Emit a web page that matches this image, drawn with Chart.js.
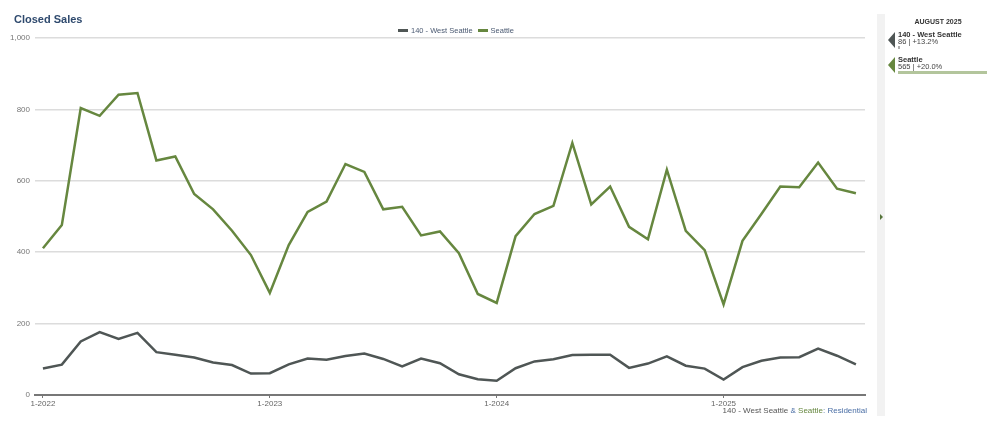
<!DOCTYPE html>
<html>
<head>
<meta charset="utf-8">
<script src="https://cdn.jsdelivr.net/npm/chart.js@4/dist/chart.umd.min.js"></script>
<style>
  body { margin: 0; background: #fff; font-family: "Liberation Sans", Arial, sans-serif; }
  #wrap { position: relative; width: 1000px; height: 421px; overflow: hidden; }
  #chartBox { position: absolute; left: 0; top: 0; width: 880px; height: 421px; }
  .title { position: absolute; left: 14px; top: 13px; font-size: 11px; font-weight: bold; color: #2f4a6e; }
  .legend { position: absolute; top: 26px; left: 398px; font-size: 7.5px; color: #4b5a72; white-space: nowrap; }
  .legend span.sw { display: inline-block; width: 10px; height: 3px; vertical-align: middle; margin: 0 3px 1px 0; }
  .legend span.it { margin-right: 5px; }
  .caption { position: absolute; right: 133px; top: 406px; font-size: 8px; color: #555; white-space: nowrap; }
  .strip { position: absolute; left: 877px; top: 14px; width: 8px; height: 402px; background: #f2f2f2; }
  .strip .arr { position: absolute; left: 3px; top: 200px; width: 0; height: 0;
    border-top: 3px solid transparent; border-bottom: 3px solid transparent; border-left: 3px solid #55743a; }
  .panel { position: absolute; left: 886px; top: 0; width: 110px; }
  .month { position: absolute; left: 0; width: 104px; top: 18px; text-align: center; font-size: 7px; font-weight: bold; color: #333; }
  .tri { position: absolute; left: 2px; width: 0; height: 0; border-top: 8px solid transparent; border-bottom: 8px solid transparent; border-right: 7px solid #4f5655; }
  .nm { position: absolute; left: 12px; font-size: 7.5px; line-height: 8px; font-weight: bold; color: #333; white-space: nowrap; }
  .vl { position: absolute; left: 12px; font-size: 7.5px; line-height: 8px; color: #444; white-space: nowrap; }
  .bar { position: absolute; left: 12px; height: 3px; }
</style>
</head>
<body>
<div id="wrap">
  <div id="chartBox"><canvas id="salesChart"></canvas></div>
  <div class="title">Closed Sales</div>
  <div class="legend" id="legend"></div>
  <div class="caption" id="caption"></div>
  <div class="strip"><div class="arr"></div></div>
  <div class="panel" id="panel"></div>
</div>
<script>
// months 1-2022 .. 8-2025
const months = [
  "1-2022","2-2022","3-2022","4-2022","5-2022","6-2022","7-2022","8-2022","9-2022","10-2022","11-2022","12-2022",
  "1-2023","2-2023","3-2023","4-2023","5-2023","6-2023","7-2023","8-2023","9-2023","10-2023","11-2023","12-2023",
  "1-2024","2-2024","3-2024","4-2024","5-2024","6-2024","7-2024","8-2024","9-2024","10-2024","11-2024","12-2024",
  "1-2025","2-2025","3-2025","4-2025","5-2025","6-2025","7-2025","8-2025"
];

const westSeattle = [
  74, 85, 150, 176, 157, 174, 120, 113, 105, 91, 84, 60,
  61, 86, 102, 99, 109, 116, 101, 80, 102, 89, 58, 44,
  40, 75, 94, 100, 112, 113, 113, 76, 88, 108, 82, 74,
  43, 78, 96, 105, 106, 130, 110, 86
];

const seattle = [
  411, 476, 804, 782, 841, 846, 657, 668, 563, 520, 460, 392,
  286, 420, 513, 542, 647, 625, 520, 527, 447, 458, 397, 283,
  258, 445, 507, 530, 706, 534, 584, 471, 436, 631, 460, 406,
  254, 432, 507, 584, 582, 651, 578, 565
];

const xTickIdx = [0, 12, 24, 36];
const yTicks = [0, 200, 400, 600, 800, 1000];

const seriesNames = ["140 - West Seattle", "Seattle"];
const seriesColors = ["#4f5655", "#66873f"];
const reportMonth = "AUGUST 2025";

const FONT = "'Liberation Sans', Arial, sans-serif";

function toPoints(arr) {
  return arr.map((v, i) => ({ x: i, y: v }));
}

const ctx = document.getElementById("salesChart").getContext("2d");
new Chart(ctx, {
  type: "line",
  data: {
    datasets: [
      {
        label: seriesNames[0],
        data: toPoints(westSeattle),
        borderColor: seriesColors[0],
        borderWidth: 2.5,
        pointRadius: 0,
        tension: 0,
      },
      {
        label: seriesNames[1],
        data: toPoints(seattle),
        borderColor: seriesColors[1],
        borderWidth: 2.5,
        pointRadius: 0,
        tension: 0,
      },
    ],
  },
  options: {
    responsive: true,
    maintainAspectRatio: false,
    animation: false,
    layout: { padding: { top: 38, right: 15, left: 0, bottom: 0 } },
    plugins: {
      legend: { display: false },
      tooltip: { enabled: false },
    },
    scales: {
      x: {
        type: "linear",
        min: -0.42,
        max: months.length - 1 + 0.48,
        afterBuildTicks: (axis) => { axis.ticks = xTickIdx.map(v => ({ value: v })); },
        afterFit: (axis) => { axis.height = 26; },
        ticks: {
          callback: (v) => months[v],
          color: "#666",
          font: { family: FONT, size: 8 },
          padding: 1,
          maxRotation: 0,
        },
        grid: { drawOnChartArea: false, tickLength: 3, color: "#777", tickWidth: 1 },
        border: { display: true, color: "#777", width: 2 },
      },
      y: {
        min: 0,
        max: 1000,
        afterBuildTicks: (axis) => { axis.ticks = yTicks.map(v => ({ value: v })); },
        afterFit: (axis) => { axis.width = 35; },
        ticks: {
          callback: (v) => v.toLocaleString("en-US"),
          color: "#777",
          font: { family: FONT, size: 8 },
          padding: 5,
        },
        grid: { color: "#dcdcdc", lineWidth: 1.5, drawTicks: false },
        border: { display: false },
      },
    },
  },
});

// legend
document.getElementById("legend").innerHTML = seriesNames.map((n, i) =>
  `<span class="sw" style="background:${seriesColors[i]}"></span><span class="it">${n}</span>`
).join("");

// footer caption
document.getElementById("caption").innerHTML =
  `<span style="color:#555">${seriesNames[0]}</span> <span style="color:#4a6ea5">&amp;</span> ` +
  `<span style="color:${seriesColors[1]}">${seriesNames[1]}</span><span style="color:#4a6ea5">: Residential</span>`;

// side panel with latest month
const last = months.length - 1;
const yearAgo = last - 12;
const panelRows = [westSeattle, seattle].map((arr, i) => {
  const pct = (arr[last] / arr[yearAgo] - 1) * 100;
  return { name: seriesNames[i], value: arr[last], pct: (pct >= 0 ? "+" : "") + pct.toFixed(1) + "%" };
});
const panelTops = [32, 57];
const barWidths = [2, 89];
const barColors = ["#b0b0b0", "#b3c59c"];
let html = `<div class="month">${reportMonth}</div>`;
panelRows.forEach((r, i) => {
  const t = panelTops[i];
  html += `<div class="tri" style="top:${t}px;border-right-color:${seriesColors[i]}"></div>`;
  html += `<div class="nm" style="top:${t - 1}px">${r.name}</div>`;
  html += `<div class="vl" style="top:${t + 6}px">${r.value} | ${r.pct}</div>`;
  html += `<div class="bar" style="top:${t + 14}px;width:${barWidths[i]}px;background:${barColors[i]}"></div>`;
});
document.getElementById("panel").innerHTML = html;
</script>
</body>
</html>
